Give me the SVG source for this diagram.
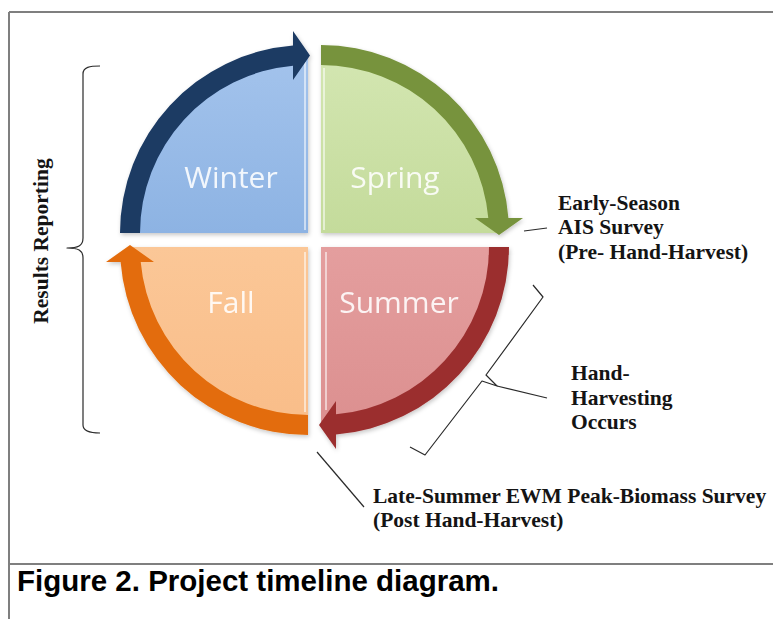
<svg xmlns="http://www.w3.org/2000/svg" width="773" height="619" viewBox="0 0 773 619">
  <style>
    .frame{stroke:#7f7f7f;stroke-width:2;fill:none}
    .season{font-family:"Open Sans","Noto Sans",sans-serif;font-size:30px;fill:#ffffff;fill-opacity:.88;text-anchor:middle}
    .note{font-family:"Liberation Serif","Times New Roman",serif;font-weight:bold;font-size:21.5px;fill:#141414}
    .lead{stroke:#2a2a2a;stroke-width:1.2;fill:none;stroke-linejoin:round}
    .cap{font-family:"Liberation Sans",Arial,sans-serif;font-weight:bold;font-size:29.5px;fill:#000}
    .hl{stroke:#ffffff;stroke-opacity:.55;stroke-width:2;fill:none}
  </style>
  <defs>
    <filter id="drop" x="-10%" y="-10%" width="125%" height="125%">
      <feDropShadow dx="1" dy="2" stdDeviation="2" flood-color="#000" flood-opacity="0.22"/>
    </filter>
    <linearGradient id="gWinter" x1="0" y1="0" x2="0" y2="1">
      <stop offset="0" stop-color="#a3c3ec"/>
      <stop offset="1" stop-color="#8db3e3"/>
    </linearGradient>
    <linearGradient id="gSpring" x1="0" y1="0" x2="0" y2="1">
      <stop offset="0" stop-color="#d3e6b1"/>
      <stop offset="1" stop-color="#c4db9b"/>
    </linearGradient>
    <linearGradient id="gSummer" x1="0" y1="0" x2="0" y2="1">
      <stop offset="0" stop-color="#e49e9e"/>
      <stop offset="1" stop-color="#dc9090"/>
    </linearGradient>
    <linearGradient id="gFall" x1="0" y1="0" x2="0" y2="1">
      <stop offset="0" stop-color="#fbc797"/>
      <stop offset="1" stop-color="#f9bd89"/>
    </linearGradient>
  </defs>

  <!-- page frame and caption rule -->
  <g id="frame">
    <line class="frame" x1="9" y1="12" x2="773" y2="12"/>
    <line class="frame" x1="9" y1="12" x2="9" y2="619"/>
    <line class="frame" x1="9" y1="564" x2="773" y2="564"/>
  </g>

  <!-- Winter quadrant -->
  <g id="winter" filter="url(#drop)">
    <path d="M308,233 L132,233 A176,176 0 0 1 308,57 Z" fill="url(#gWinter)"/>
    <path class="hl" d="M305,62 L305,230"/>
    <path d="M120,233 A188,188 0 0 1 293,45.6 L293,31 L310,55.5 L293,80 L293,65.7 A168,168 0 0 0 140,233 Z" fill="#1b3a64"/>
    <text class="season" x="231" y="188">Winter</text>
  </g>

  <!-- Spring quadrant -->
  <g id="spring" filter="url(#drop)">
    <path d="M321,233 L321,57 A176,176 0 0 1 497,233 Z" fill="url(#gSpring)"/>
    <path class="hl" d="M324,68 L324,230"/>
    <path d="M321,45 A188,188 0 0 1 508.4,218 L523,218 L499,235 L475,218 L488.3,218 A168,168 0 0 0 321,65 Z" fill="#77933c"/>
    <text class="season" x="395" y="188">Spring</text>
  </g>

  <!-- Summer quadrant -->
  <g id="summer" filter="url(#drop)">
    <path d="M321,247 L497,247 A176,176 0 0 1 321,423 Z" fill="url(#gSummer)"/>
    <path class="hl" d="M326,252 L326,410"/>
    <path d="M509,247 A188,188 0 0 1 336,434.4 L336,449 L319,425 L336,401 L336,414.3 A168,168 0 0 0 489,247 Z" fill="#9b2f2f"/>
    <text class="season" x="399" y="313">Summer</text>
  </g>

  <!-- Fall quadrant -->
  <g id="fall" filter="url(#drop)">
    <path d="M308,247 L308,423 A176,176 0 0 1 132,247 Z" fill="url(#gFall)"/>
    <path class="hl" d="M305,252 L305,412"/>
    <path d="M308,435 A188,188 0 0 1 120.6,262 L106,262 L130,245 L154,262 L140.7,262 A168,168 0 0 0 308,415 Z" fill="#e36c0a"/>
    <text class="season" x="231" y="313">Fall</text>
  </g>

  <!-- brackets and leader lines -->
  <g id="connectors">
    <path class="lead" d="M100,66 C90,66 83,67 83,74 L83,238 C83,246 78,248 67,248 C78,248 83,250 83,258 L83,425 C83,431 90,433 100,433"/>
    <path class="lead" d="M533,285 L543,297 L486,375 L497,386 L482,381 L425,455 L410,447"/>
    <path class="lead" d="M497,386 L547,398"/>
    <path class="lead" d="M524,231 L547,228"/>
    <path class="lead" d="M317,452 L364,507"/>
  </g>

  <!-- annotations -->
  <g id="results-reporting">
    <text class="note" transform="translate(48,241) rotate(-90)" text-anchor="middle">Results Reporting</text>
  </g>
  <g id="early-season">
    <text class="note" x="558" y="209.5">Early-Season</text>
    <text class="note" x="558" y="234">AIS Survey</text>
    <text class="note" x="558" y="258.5">(Pre- Hand-Harvest)</text>
  </g>
  <g id="hand-harvesting">
    <text class="note" x="571" y="380">Hand-</text>
    <text class="note" x="571" y="405">Harvesting</text>
    <text class="note" x="571" y="429">Occurs</text>
  </g>
  <g id="late-summer">
    <text class="note" x="373" y="503">Late-Summer EWM Peak-Biomass Survey</text>
    <text class="note" x="373" y="527">(Post Hand-Harvest)</text>
  </g>

  <g id="caption">
    <text class="cap" x="17" y="591">Figure 2. Project timeline diagram.</text>
  </g>
</svg>
